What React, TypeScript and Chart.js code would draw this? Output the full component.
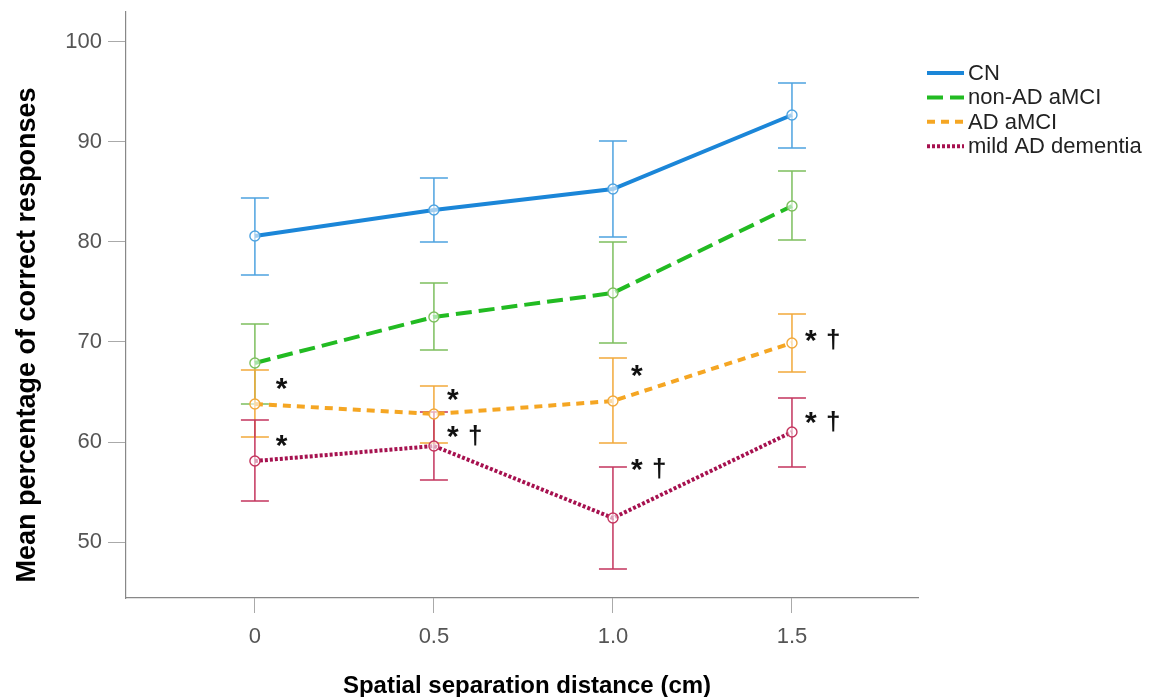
import React, { useEffect, useRef } from "react";
import { Chart, registerables } from "chart.js";

Chart.register(...registerables);

const xValues = [0, 0.5, 1.0, 1.5];
const tickValuesX = [0, 0.5, 1.0, 1.5];
const tickValuesY = [50, 60, 70, 80, 90, 100];

const seriesNames = ["CN", "non-AD aMCI", "AD aMCI", "mild AD dementia"];
const cnMean = [80.6, 83.2, 85.3, 92.7];
const cnLow = [76.7, 80.0, 80.5, 89.4];
const cnHigh = [84.4, 86.4, 90.1, 95.9];
const nonAdMean = [67.9, 72.5, 74.9, 83.6];
const nonAdLow = [63.8, 69.2, 69.9, 80.2];
const nonAdHigh = [71.8, 75.9, 80.0, 87.1];
const adMean = [63.8, 62.8, 64.1, 69.9];
const adLow = [60.5, 59.9, 59.9, 67.0];
const adHigh = [67.2, 65.6, 68.4, 72.8];
const mildMean = [58.1, 59.6, 52.4, 61.0];
const mildLow = [54.1, 56.2, 47.3, 57.5];
const mildHigh = [62.2, 63.0, 57.5, 64.4];

// annotation marks (star position in data units)
const annoX = [0.075, 0.075, 0.553, 0.553, 1.067, 1.067, 1.553, 1.553];
const annoY = [65.8, 60.1, 64.7, 61.0, 67.1, 57.7, 70.6, 62.4];
const annoText = ["*", "*", "*", "* †", "*", "* †", "* †", "* †"];

const lineColors = ["#1b86d8", "#22bb22", "#f5a623", "#a6114f"];
const barColors = ["#4ea3e0", "#7dbf5e", "#f2a93b", "#c4355e"];
const dashes = [[], [16, 7], [8, 6], [3, 2]];

const lows = [cnLow, nonAdLow, adLow, mildLow];
const highs = [cnHigh, nonAdHigh, adHigh, mildHigh];
const means = [cnMean, nonAdMean, adMean, mildMean];

const FONT = "'Liberation Sans', Arial, sans-serif";

function drawCentered(ctx: any, text: string, cx: number, cy: number) {
  const m = ctx.measureText(text);
  const w = m.actualBoundingBoxLeft + m.actualBoundingBoxRight;
  const h = m.actualBoundingBoxAscent + m.actualBoundingBoxDescent;
  const x = cx - w / 2 + m.actualBoundingBoxLeft;
  const y = cy - h / 2 + m.actualBoundingBoxAscent;
  ctx.fillText(text, x, y);
}

const customPlugin = {
  id: "custom",
  beforeDatasetsDraw(chart: any) {
    const ctx = chart.ctx;
    const xs = chart.scales.x;
    const ys = chart.scales.y;
    ctx.save();
    for (let d = 0; d < 4; d++) {
      ctx.strokeStyle = barColors[d];
      ctx.lineWidth = 1.5;
      ctx.setLineDash([]);
      for (let i = 0; i < xValues.length; i++) {
        const px = xs.getPixelForValue(xValues[i]);
        const pl = ys.getPixelForValue(lows[d][i]);
        const ph = ys.getPixelForValue(highs[d][i]);
        ctx.beginPath();
        ctx.moveTo(px, pl);
        ctx.lineTo(px, ph);
        ctx.moveTo(px - 14, pl);
        ctx.lineTo(px + 14, pl);
        ctx.moveTo(px - 14, ph);
        ctx.lineTo(px + 14, ph);
        ctx.stroke();
      }
    }
    ctx.restore();
  },
  afterDraw(chart: any) {
    const ctx = chart.ctx;
    const xs = chart.scales.x;
    const ys = chart.scales.y;
    ctx.save();
    // annotations
    ctx.fillStyle = "#111";
    ctx.textAlign = "left";
    ctx.textBaseline = "alphabetic";
    for (let i = 0; i < annoX.length; i++) {
      const px = xs.getPixelForValue(annoX[i]);
      const py = ys.getPixelForValue(annoY[i]);
      const parts = annoText[i].split(" ");
      parts.forEach((p, j) => {
        if (p === "*") {
          ctx.font = `bold 30px ${FONT}`;
        } else {
          ctx.font = `bold 26px ${FONT}`;
        }
        drawCentered(ctx, p, px + j * 22, py + (p === "*" ? 0 : 3));
      });
    }
    // legend
    const lx = 927;
    const ly = 73;
    const step = 24.4;
    ctx.textAlign = "left";
    ctx.textBaseline = "middle";
    ctx.font = `22px ${FONT}`;
    for (let d = 0; d < 4; d++) {
      const y = ly + d * step;
      ctx.strokeStyle = lineColors[d];
      ctx.lineWidth = 4;
      ctx.setLineDash(dashes[d]);
      ctx.beginPath();
      ctx.moveTo(lx, y);
      ctx.lineTo(lx + 37, y);
      ctx.stroke();
      ctx.setLineDash([]);
      ctx.fillStyle = "#222";
      ctx.fillText(seriesNames[d], lx + 41, y + 1);
    }
    // axis titles
    ctx.fillStyle = "#000";
    ctx.font = `bold 24px ${FONT}`;
    ctx.textAlign = "center";
    ctx.textBaseline = "middle";
    ctx.fillText("Spatial separation distance (cm)", 527, 686);
    ctx.save();
    ctx.translate(28, 335);
    ctx.rotate(-Math.PI / 2);
    ctx.font = `bold 27px ${FONT}`;
    ctx.fillText("Mean percentage of correct responses", 0, 0);
    ctx.restore();
    ctx.restore();
  },
};

export default function App() {
  const ref = useRef<HTMLCanvasElement | null>(null);
  useEffect(() => {
    if (!ref.current) return;
    const datasets = seriesNames.map((name, d) => ({
      label: name,
      data: xValues.map((x, i) => ({ x, y: means[d][i] })),
      borderColor: lineColors[d],
      borderWidth: 4,
      borderDash: dashes[d],
      pointRadius: 5,
      pointBorderWidth: 1.4,
      pointBorderColor: barColors[d],
      pointBackgroundColor: "rgba(255,255,255,0.6)",
      fill: false,
      tension: 0,
    }));
    const chart = new Chart(ref.current, {
      type: "line",
      data: { datasets },
      options: {
        animation: false,
        responsive: false,
        maintainAspectRatio: false,
        layout: { padding: { left: 0, top: 12, right: 247, bottom: 0 } },
        plugins: { legend: { display: false }, tooltip: { enabled: false } },
        scales: {
          x: {
            type: "linear",
            min: -0.36,
            max: 1.852,
            afterBuildTicks: (s: any) => {
              s.ticks = tickValuesX.map((v) => ({ value: v }));
            },
            afterFit: (s: any) => {
              s.height = 99;
              s.paddingLeft = 0;
              s.paddingRight = 0;
            },
            ticks: {
              callback: (v: any) => (v === 0 ? "0" : Number(v).toFixed(1)),
              font: { size: 22, family: FONT },
              color: "#555",
              padding: 11,
              maxRotation: 0,
            },
            grid: { drawOnChartArea: false, drawTicks: true, tickLength: 15, color: "#aaa" },
            border: { display: true, color: "#888", width: 1.2 },
          },
          y: {
            type: "linear",
            min: 44.4,
            max: 103,
            afterBuildTicks: (s: any) => {
              s.ticks = tickValuesY.map((v) => ({ value: v }));
            },
            afterFit: (s: any) => {
              s.width = 126;
              s.paddingTop = 0;
              s.paddingBottom = 0;
            },
            ticks: {
              font: { size: 22, family: FONT },
              color: "#555",
              padding: 6,
            },
            grid: { drawOnChartArea: false, drawTicks: true, tickLength: 18, color: "#aaa" },
            border: { display: true, color: "#888", width: 1.2 },
          },
        },
      },
      plugins: [customPlugin],
    });
    return () => chart.destroy();
  }, []);
  return (
    <div style={{ position: "fixed", left: 0, top: 0, width: 1165, height: 697, background: "#fff" }}>
      <canvas ref={ref} width={1165} height={697} style={{ width: 1165, height: 697 }} />
    </div>
  );
}
